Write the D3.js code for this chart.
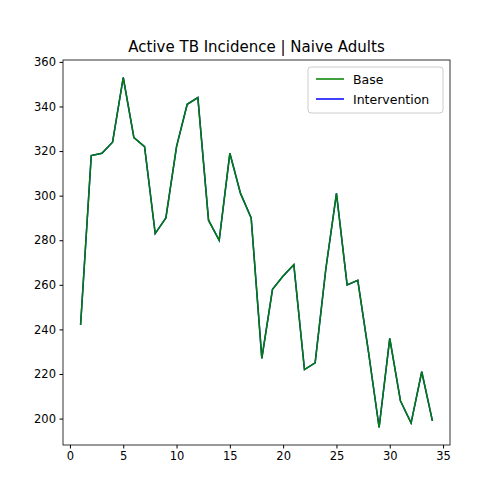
<!DOCTYPE html>
<html><head><meta charset="utf-8">
<script src="https://cdn.jsdelivr.net/npm/d3@7"></script>
<style>body{margin:0;background:#fff;font-family:"DejaVu Sans",sans-serif;}</style>
</head><body><div id="chart"></div>
<script>
const months = d3.range(1, 35);
const baseValues = [242,318,319,324,353,326,322,283,290,322,341,344,289,280,319,301,290,227,258,264,269,222,225,267,301,260,262,230,196,236,208,198,221,199];
const interventionValues = baseValues.slice();
const xTicks = [0,5,10,15,20,25,30,35];
const yTicks = [200,220,240,260,280,300,320,340,360];

const width = 500, height = 500;
const margin = {left: 63, right: 50, top: 60, bottom: 55};

const svg = d3.select('#chart').append('svg')
  .attr('width', width).attr('height', height);

const lo = d3.min(baseValues), hi = d3.max(baseValues);
const pad = (hi - lo) * 0.05;
const sx = d3.scaleLinear().domain([1 - 33*0.05, 34 + 33*0.05])
  .range([margin.left, width - margin.right]);
const sy = d3.scaleLinear().domain([lo - pad, hi + pad])
  .range([height - margin.bottom, margin.top]);

const xAxis = svg.append('g')
  .attr('transform', 'translate(0,' + (height - margin.bottom) + ')')
  .call(d3.axisBottom(sx).tickValues(xTicks).tickSize(3.5).tickPadding(3.5));
const yAxis = svg.append('g')
  .attr('transform', 'translate(' + margin.left + ',0)')
  .call(d3.axisLeft(sy).tickValues(yTicks).tickSize(3.5).tickPadding(3.5));
[xAxis, yAxis].forEach(a => {
  a.selectAll('text').style('font-size', '11.5px').style('font-family', 'DejaVu Sans').attr('fill', '#000');
  a.select('.domain').remove();
});

svg.append('rect')
  .attr('x', margin.left).attr('y', margin.top)
  .attr('width', width - margin.left - margin.right)
  .attr('height', height - margin.bottom - margin.top)
  .attr('fill', 'none').attr('stroke', '#000').attr('stroke-width', 0.8);

const line = d3.line().x((d, i) => sx(months[i])).y(d => sy(d));
svg.append('path').datum(interventionValues)
  .attr('d', line).attr('fill', 'none').attr('stroke', 'blue').attr('stroke-width', 1.5);
svg.append('path').datum(baseValues)
  .attr('d', line).attr('fill', 'none').attr('stroke', 'green').attr('stroke-width', 1.5);

svg.append('text')
  .attr('x', (margin.left + width - margin.right) / 2).attr('y', margin.top - 8)
  .attr('text-anchor', 'middle').style('font-size', '15px')
  .text('Active TB Incidence | Naive Adults');

// legend
const lg = svg.append('g').attr('transform', 'translate(308,67)');
lg.append('rect').attr('width', 135).attr('height', 46).attr('rx', 3)
  .attr('fill', '#fff').attr('fill-opacity', 0.8).attr('stroke', '#ccc');
[['Base', 'green'], ['Intervention', 'blue']].forEach((d, i) => {
  const y = 12 + i * 20;
  lg.append('line').attr('x1', 8).attr('x2', 36).attr('y1', y).attr('y2', y)
    .attr('stroke', d[1]).attr('stroke-width', 1.5);
  lg.append('text').attr('x', 45).attr('y', y + 4.5)
    .style('font-size', '12.5px').text(d[0]);
});
</script></body></html>
